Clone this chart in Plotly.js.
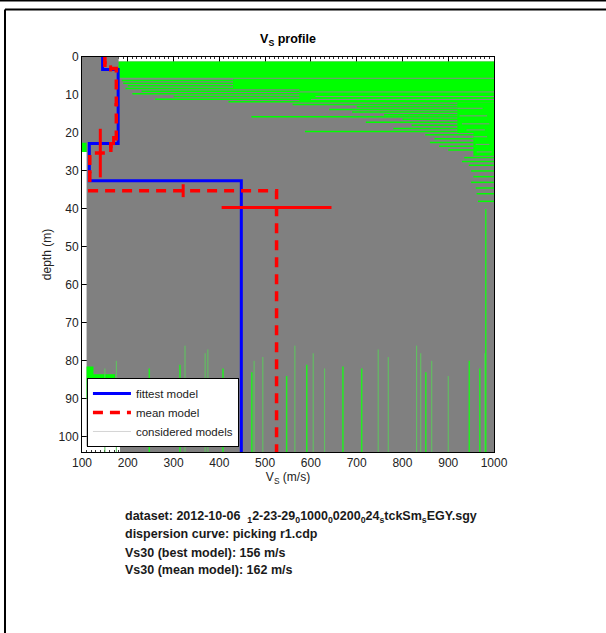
<!DOCTYPE html>
<html>
<head>
<meta charset="utf-8">
<script src="https://cdn.plot.ly/plotly-3.0.1.min.js"></script>
<style>html,body{margin:0;padding:0;background:#fff;}#chart{width:606px;height:633px;}</style>
</head>
<body>
<div id="chart"></div>
<script>
// ---------------- data ----------------
const depthMax = 104;
// fittest model: layer velocities (m/s) and interface depths (m)
const bestV = [145, 179, 116, 448];
const bestZ = [3.3, 22.8, 32.6];
// mean model
const meanV = [150, 175, 163, 117, 525];
const meanZ = [3.0, 22.0, 25.3, 35.2];
const meanDepthErr = [0.8, 1.2, 6.4, 1.7];
const meanVelErr = [4, 4, 4, 4, 120];
const meanVelErrDepth = [1.5, 12.5, 23.6, 30.2, 39.6];

// envelope of the considered models (gray)
const envV = [100, 180, 180, 1000, 1000, 183, 183, 110, 110, 100, 100];
const envZ = [0, 0, 1.2, 1.2, 104, 104, 102.5, 102.5, 25, 25, 0];

// dense green patches of models: min/max velocity, top/bottom depth
const patchV0 = [180, 430, 575, 920, 955, 100, 110, 112];
const patchV1 = [1000, 1000, 1000, 1000, 1000, 110, 125, 172];
const patchZ0 = [1.2, 5.6, 8.3, 12.0, 20.0, 22.6, 81.5, 83.5];
const patchZ1 = [5.6, 8.3, 11.8, 20.0, 26.0, 25.0, 90.0, 88.5];

// thin green layer lines: depth, start velocity, end velocity
const lineZ  = [6.2, 6.9, 7.6, 8.3, 9.0, 9.7, 10.4, 11.1, 11.8, 12.5, 13.1, 13.8, 14.5, 15.2, 15.7, 16.4, 17.2, 18.0, 18.8, 19.6, 20.5, 21.5, 22.5, 23.5, 24.5, 26.5, 27.5, 28.5, 30.0, 31.5, 33.0, 34.5, 36.0, 38.0];
const lineV0 = [187, 190, 200, 195, 230, 210, 300, 260, 420, 560, 700, 640, 690, 760, 470, 800, 720, 820, 780, 587, 850, 870, 860, 880, 900, 935, 930, 945, 950, 955, 950, 960, 962, 965];
const lineV1 = [1000, 1000, 1000, 1000, 1000, 1000, 1000, 1000, 1000, 1000, 1000, 1000, 1000, 1000, 1000, 1000, 1000, 1000, 1000, 1000, 1000, 1000, 1000, 1000, 1000, 1000, 1000, 1000, 1000, 1000, 1000, 1000, 1000, 1000];

// gray model lines crossing the green patches: depth, start, end velocity
const grayLineZ  = [5.6, 9.2, 10.4, 11.2, 13.5, 15.5, 17.6, 19.2, 21.0, 23.0, 25.0];
const grayLineV0 = [180, 575, 610, 600, 920, 925, 930, 940, 955, 960, 962];
const grayLineV1 = [1000, 1000, 1000, 1000, 975, 985, 990, 980, 985, 990, 995];

// half-space green lines at depth (bright): velocity, top depth
const vBrightV = [247, 314, 408, 471, 547, 591, 670, 711, 851, 946, 969, 982];
const vBrightZ = [82, 81, 82, 83, 84, 81, 81.5, 82, 83, 80, 82, 40];
// fainter ones
const vFaintV = [150, 175, 325, 369, 375, 476, 495, 565, 605, 630, 747, 769, 831, 840, 864, 900, 980];
const vFaintZ = [82, 80, 76, 78, 77, 80, 79, 76, 78, 82, 77, 79, 76, 78, 80, 84, 78];

// text lines below the chart
const infoLines = [
  'dataset: 2012-10-06  <sub>1</sub>2-23-29<sub>0</sub>1000<sub>0</sub>0200<sub>0</sub>24<sub>s</sub>tckSm<sub>s</sub>EGY.sgy',
  'dispersion curve: picking r1.cdp',
  'Vs30 (best model): 156 m/s',
  'Vs30 (mean model): 162 m/s'
];
const xTicks = [100, 200, 300, 400, 500, 600, 700, 800, 900, 1000];
const yTicks = [0, 10, 20, 30, 40, 50, 60, 70, 80, 90, 100];

// ---------------- helpers ----------------
function steps(v, z, zmax) {
  const xs = [], ys = [];
  let top = 0;
  for (let i = 0; i < v.length; i++) {
    const bot = i < z.length ? z[i] : zmax;
    xs.push(v[i], v[i]); ys.push(top, bot);
    top = bot;
  }
  return {x: xs, y: ys};
}
function rects(v0, v1, z0, z1) {
  const xs = [], ys = [];
  for (let i = 0; i < v0.length; i++) {
    xs.push(v0[i], v1[i], v1[i], v0[i], v0[i], null);
    ys.push(z0[i], z0[i], z1[i], z1[i], z0[i], null);
  }
  return {x: xs, y: ys};
}
function hlines(z, v0, v1) {
  const xs = [], ys = [];
  for (let i = 0; i < z.length; i++) { xs.push(v0[i], v1[i], null); ys.push(z[i], z[i], null); }
  return {x: xs, y: ys};
}
function vlines(v, z0, zmax) {
  const xs = [], ys = [];
  for (let i = 0; i < v.length; i++) { xs.push(v[i], v[i], null); ys.push(z0[i], zmax, null); }
  return {x: xs, y: ys};
}

const best = steps(bestV, bestZ, depthMax);
const mean = steps(meanV, meanZ, depthMax);
const pr = rects(patchV0, patchV1, patchZ0, patchZ1);
const hl = hlines(lineZ, lineV0, lineV1);
const gl = hlines(grayLineZ, grayLineV0, grayLineV1);
const vb = vlines(vBrightV, vBrightZ, depthMax);
const vf = vlines(vFaintV, vFaintZ, depthMax);

const ifX = meanZ.map((z, i) => (meanV[i] + meanV[i + 1]) / 2);

const traces = [
  {x: envV, y: envZ, mode: 'lines', fill: 'toself', fillcolor: '#808080', line: {width: 0, color: '#808080'}, showlegend: false, hoverinfo: 'skip'},
  {x: pr.x, y: pr.y, mode: 'lines', fill: 'toself', fillcolor: '#00ff00', line: {width: 0, color: '#00ff00'}, showlegend: false, hoverinfo: 'skip'},
  {x: hl.x, y: hl.y, mode: 'lines', line: {width: 1.5, color: '#00ff00'}, showlegend: false, hoverinfo: 'skip'},
  {x: gl.x, y: gl.y, mode: 'lines', line: {width: 1, color: '#8a8a8a'}, showlegend: false, hoverinfo: 'skip'},
  {x: vf.x, y: vf.y, mode: 'lines', line: {width: 1, color: '#5cc85c'}, showlegend: false, hoverinfo: 'skip'},
  {x: vb.x, y: vb.y, mode: 'lines', line: {width: 1.5, color: '#22ee22'}, showlegend: false, hoverinfo: 'skip'},
  {x: best.x, y: best.y, mode: 'lines', name: 'fittest model', line: {color: '#0000ff', width: 3}, legendrank: 1},
  {x: mean.x, y: mean.y, mode: 'lines', name: 'mean model', line: {color: '#ff0000', width: 3.5, dash: '10px,7px'}, legendrank: 2},
  {x: ifX, y: meanZ, mode: 'markers', marker: {size: 0.1, color: '#ff0000'}, showlegend: false,
   error_y: {type: 'data', array: meanDepthErr, color: '#ff0000', thickness: 3, width: 0}},
  {x: meanV, y: meanVelErrDepth, mode: 'markers', marker: {size: 0.1, color: '#ff0000'}, showlegend: false,
   error_x: {type: 'data', array: meanVelErr, color: '#ff0000', thickness: 3, width: 0}},
  {x: [null], y: [null], mode: 'lines', name: 'considered models', line: {color: '#d4d4d4', width: 1}, legendrank: 3}
];

const font = 'Liberation Sans, Arial, sans-serif';
const annotations = infoLines.map((t, i) => ({
  text: '<b>' + t + '</b>', xref: 'paper', yref: 'paper', x: 0.099, xanchor: 'left',
  y: [-0.1638, -0.2076, -0.2549, -0.2987][i], yanchor: 'middle', showarrow: false,
  font: {family: font, size: 12.5, color: '#1a1a1a'}
}));

const layout = {
  width: 606, height: 633,
  margin: {l: 82, r: 112, t: 57, b: 181},
  paper_bgcolor: '#ffffff', plot_bgcolor: '#ffffff',
  font: {family: font, size: 12, color: '#222222'},
  title: {text: '<b>V<sub>S</sub> profile</b>', font: {family: font, size: 12.5, color: '#000'},
          x: 0.5, xref: 'paper', xanchor: 'center', y: 1 - 39 / 633, yanchor: 'middle'},
  xaxis: {range: [100, 1000], tickvals: xTicks, ticktext: xTicks.map(String), showgrid: false, zeroline: false,
          showline: true, linecolor: '#000', linewidth: 1, mirror: 'ticks', ticks: 'inside', ticklen: 5, tickcolor: '#000',
          minor: {dtick: 10, ticks: 'inside', ticklen: 2, tickcolor: '#333'},
          layer: 'below traces', title: {text: 'V<sub>S</sub> (m/s)', standoff: 3, font: {size: 12}}, tickfont: {size: 12}},
  yaxis: {range: [depthMax, 0], tickvals: yTicks, ticktext: yTicks.map(String), showgrid: false, zeroline: false,
          showline: true, linecolor: '#000', linewidth: 1, mirror: 'ticks', ticks: 'inside', ticklen: 5, tickcolor: '#000',
          layer: 'below traces', title: {text: 'depth (m)', standoff: 4, font: {size: 12}}, tickfont: {size: 12}},
  legend: {x: 0.012, y: 0.0127, xanchor: 'left', yanchor: 'bottom', bgcolor: '#ffffff', bordercolor: '#000', borderwidth: 1,
           font: {family: font, size: 11.5, color: '#222'}, tracegroupgap: 0, itemwidth: 38},
  showlegend: true,
  annotations: annotations,
  shapes: [
    {type: 'line', xref: 'paper', yref: 'paper', x0: -0.2, x1: 1.28, y0: 1.143, y1: 1.143, line: {color: '#000', width: 2}},
    {type: 'line', xref: 'paper', yref: 'paper', x0: -0.1869, x1: 1.28, y0: 1.1203, y1: 1.1203, line: {color: '#000', width: 2}},
    {type: 'line', xref: 'paper', yref: 'paper', x0: -0.1869, x1: -0.1869, y0: 1.1203, y1: -0.47, line: {color: '#000', width: 2}}
  ]
};

Plotly.newPlot('chart', traces, layout, {staticPlot: true, displayModeBar: false});
</script>
</body>
</html>
